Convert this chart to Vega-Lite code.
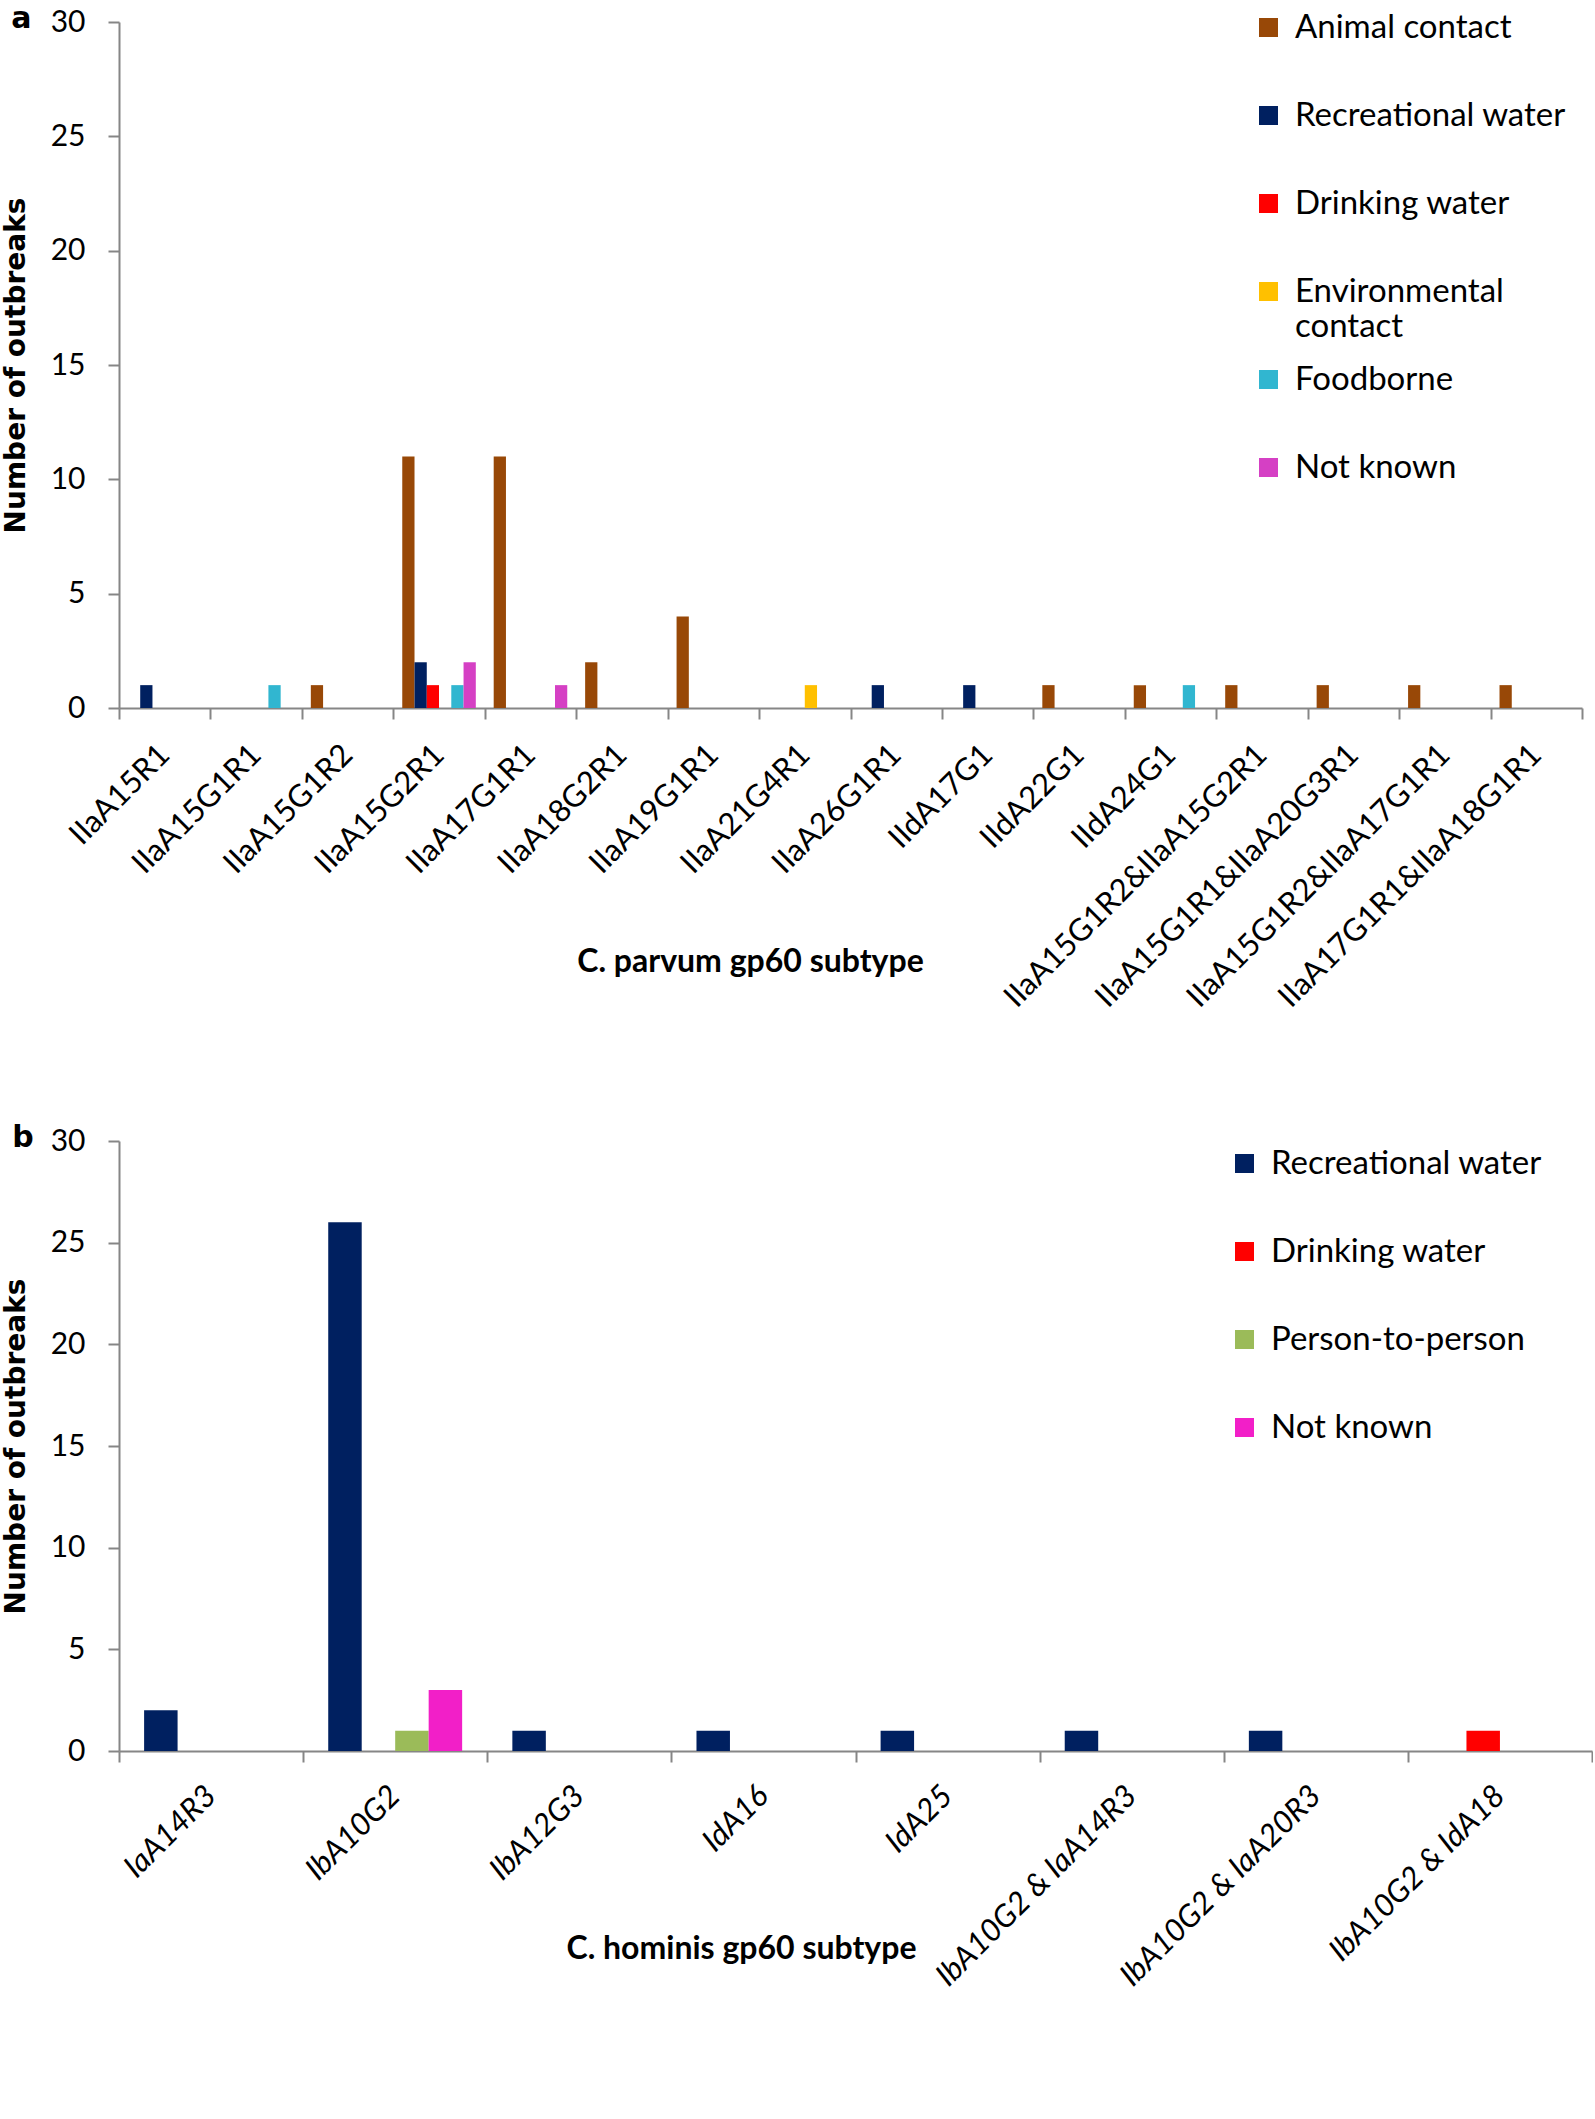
{
  "$schema": "https://vega.github.io/schema/vega-lite/v6.json",
  "background": "white",
  "padding": {"left": 2, "top": 4, "right": 0, "bottom": 0},
  "spacing": 110,
  "config": {
    "view": {"stroke": null},
    "axis": {"domainColor": "#868686", "domainWidth": 2, "tickColor": "#868686", "tickWidth": 2, "labelColor": "black", "titleColor": "black", "grid": false},
    "title": {"color": "black"}
  },
  "resolve": {"scale": {"color": "independent", "x": "independent", "xOffset": "independent", "y": "independent"}, "legend": {"color": "independent"}},
  "vconcat": [
    {
      "title": {"text": "a", "anchor": "start", "frame": "bounds", "font": "DejaVu Sans", "fontWeight": "bold", "fontSize": 30, "baseline": "alphabetic", "offset": 0, "dy": 51, "dx": 9},
      "width": 1463,
      "height": 686,
      "data": {"values": [
        {"subtype": "IIaA15R1", "route": "Recreational water", "n": 1},
        {"subtype": "IIaA15G1R1", "route": "Foodborne", "n": 1},
        {"subtype": "IIaA15G1R2", "route": "Animal contact", "n": 1},
        {"subtype": "IIaA15G2R1", "route": "Animal contact", "n": 11},
        {"subtype": "IIaA15G2R1", "route": "Recreational water", "n": 2},
        {"subtype": "IIaA15G2R1", "route": "Drinking water", "n": 1},
        {"subtype": "IIaA15G2R1", "route": "Foodborne", "n": 1},
        {"subtype": "IIaA15G2R1", "route": "Not known", "n": 2},
        {"subtype": "IIaA17G1R1", "route": "Animal contact", "n": 11},
        {"subtype": "IIaA17G1R1", "route": "Not known", "n": 1},
        {"subtype": "IIaA18G2R1", "route": "Animal contact", "n": 2},
        {"subtype": "IIaA19G1R1", "route": "Animal contact", "n": 4},
        {"subtype": "IIaA21G4R1", "route": "Environmental contact", "n": 1},
        {"subtype": "IIaA26G1R1", "route": "Recreational water", "n": 1},
        {"subtype": "IIdA17G1", "route": "Recreational water", "n": 1},
        {"subtype": "IIdA22G1", "route": "Animal contact", "n": 1},
        {"subtype": "IIdA24G1", "route": "Animal contact", "n": 1},
        {"subtype": "IIdA24G1", "route": "Foodborne", "n": 1},
        {"subtype": "IIaA15G1R2&IIaA15G2R1", "route": "Animal contact", "n": 1},
        {"subtype": "IIaA15G1R1&IIaA20G3R1", "route": "Animal contact", "n": 1},
        {"subtype": "IIaA15G1R2&IIaA17G1R1", "route": "Animal contact", "n": 1},
        {"subtype": "IIaA17G1R1&IIaA18G1R1", "route": "Animal contact", "n": 1}
      ]},
      "mark": {"type": "bar"},
      "encoding": {
        "x": {
          "field": "subtype", "type": "nominal",
          "scale": {"domain": ["IIaA15R1", "IIaA15G1R1", "IIaA15G1R2", "IIaA15G2R1", "IIaA17G1R1", "IIaA18G2R1", "IIaA19G1R1", "IIaA21G4R1", "IIaA26G1R1", "IIdA17G1", "IIdA22G1", "IIdA24G1", "IIaA15G1R2&IIaA15G2R1", "IIaA15G1R1&IIaA20G3R1", "IIaA15G1R2&IIaA17G1R1", "IIaA17G1R1&IIaA18G1R1"], "paddingInner": 0, "paddingOuter": 0},
          "axis": {"labelAngle": -45, "labelAlign": "right", "labelBaseline": "middle", "labelFont": "Lato", "labelFontSize": 31, "labelPadding": 31, "labelLimit": 1000, "labelOverlap": false, "tickSize": 11, "tickBand": "extent", "title": "C. parvum gp60 subtype", "titleFont": "Lato", "titleFontWeight": "bold", "titleFontSize": 32, "titleX": 631, "titleY": 263, "titleBaseline": "alphabetic", "titleAlign": "center"}
        },
        "xOffset": {"field": "route", "type": "nominal", "scale": {"domain": ["Animal contact", "Recreational water", "Drinking water", "Environmental contact", "Foodborne", "Not known"], "paddingInner": 0, "paddingOuter": 0.73}},
        "y": {
          "field": "n", "type": "quantitative",
          "scale": {"domain": [0, 30], "nice": false},
          "axis": {"values": [0, 5, 10, 15, 20, 25, 30], "title": "Number of outbreaks", "labelFont": "Lato", "labelFontSize": 30, "labelPadding": 23, "tickSize": 11, "titleFont": "DejaVu Sans", "titleFontWeight": "bold", "titleFontSize": 28, "titlePadding": 20}
        },
        "color": {
          "field": "route", "type": "nominal",
          "scale": {"domain": ["Animal contact", "Recreational water", "Drinking water", "Environmental contact", "Foodborne", "Not known"], "range": ["#984807", "#002060", "#FF0000", "#FFC000", "#31B6D0", "#D540C4"]},
          "legend": {"orient": "none", "legendX": 1133, "legendY": -11, "title": null, "padding": 0, "symbolType": "square", "symbolSize": 361, "symbolStrokeWidth": 0, "labelFont": "Lato", "labelFontSize": 33, "labelColor": "black", "labelOffset": 10, "labelBaseline": "middle", "rowPadding": 19, "labelLimit": 1000, "labelExpr": "datum.label == 'Environmental contact' ? ['Environmental', 'contact'] : [datum.label, '']"}
        }
      }
    },
    {
      "title": {"text": "b", "anchor": "start", "frame": "bounds", "font": "DejaVu Sans", "fontWeight": "bold", "fontSize": 30, "baseline": "alphabetic", "offset": 0, "dy": 51, "dx": 10},
      "width": 1473,
      "height": 610,
      "data": {"values": [
        {"subtype": "IaA14R3", "route": "Recreational water", "n": 2},
        {"subtype": "IbA10G2", "route": "Recreational water", "n": 26},
        {"subtype": "IbA10G2", "route": "Person-to-person", "n": 1},
        {"subtype": "IbA10G2", "route": "Not known", "n": 3},
        {"subtype": "IbA12G3", "route": "Recreational water", "n": 1},
        {"subtype": "IdA16", "route": "Recreational water", "n": 1},
        {"subtype": "IdA25", "route": "Recreational water", "n": 1},
        {"subtype": "IbA10G2 & IaA14R3", "route": "Recreational water", "n": 1},
        {"subtype": "IbA10G2 & IaA20R3", "route": "Recreational water", "n": 1},
        {"subtype": "IbA10G2 & IdA18", "route": "Drinking water", "n": 1}
      ]},
      "mark": {"type": "bar"},
      "encoding": {
        "x": {
          "field": "subtype", "type": "nominal",
          "scale": {"domain": ["IaA14R3", "IbA10G2", "IbA12G3", "IdA16", "IdA25", "IbA10G2 & IaA14R3", "IbA10G2 & IaA20R3", "IbA10G2 & IdA18"], "paddingInner": 0, "paddingOuter": 0},
          "axis": {"labelAngle": -45, "labelAlign": "right", "labelBaseline": "middle", "labelFont": "Lato", "labelFontSize": 31, "labelFontStyle": "italic", "labelPadding": 29, "labelLimit": 1000, "labelOverlap": false, "tickSize": 11, "tickBand": "extent", "title": "C. hominis gp60 subtype", "titleFont": "Lato", "titleFontWeight": "bold", "titleFontSize": 32, "titleX": 622, "titleY": 207, "titleBaseline": "alphabetic", "titleAlign": "center"}
        },
        "xOffset": {"field": "route", "type": "nominal", "scale": {"domain": ["Recreational water", "Drinking water", "Person-to-person", "Not known"], "paddingInner": 0, "paddingOuter": 0.75}},
        "y": {
          "field": "n", "type": "quantitative",
          "scale": {"domain": [0, 30], "nice": false},
          "axis": {"values": [0, 5, 10, 15, 20, 25, 30], "title": "Number of outbreaks", "labelFont": "Lato", "labelFontSize": 30, "labelPadding": 23, "tickSize": 11, "titleFont": "DejaVu Sans", "titleFontWeight": "bold", "titleFontSize": 28, "titlePadding": 20}
        },
        "color": {
          "field": "route", "type": "nominal",
          "scale": {"domain": ["Recreational water", "Drinking water", "Person-to-person", "Not known"], "range": ["#002060", "#FF0000", "#9BBB59", "#F21FC8"]},
          "legend": {"orient": "none", "legendX": 1109, "legendY": 6, "title": null, "padding": 0, "symbolType": "square", "symbolSize": 361, "symbolStrokeWidth": 0, "labelFont": "Lato", "labelFontSize": 33, "labelColor": "black", "labelOffset": 10, "labelBaseline": "middle", "rowPadding": 54, "labelLimit": 1000}
        }
      }
    }
  ]
}
